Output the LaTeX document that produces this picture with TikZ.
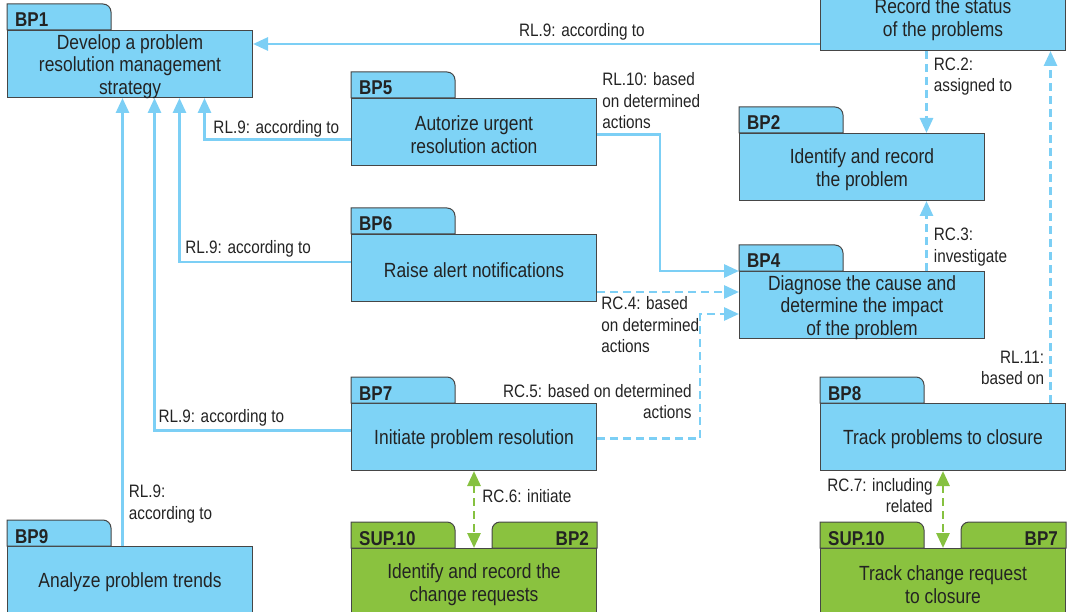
\documentclass[tikz,border=0pt]{standalone}
\usepackage{fontspec}
\setmainfont{Liberation Sans}[FakeStretch=0.85]
\usetikzlibrary{arrows.meta,calc}

\definecolor{boxblue}{RGB}{126,211,246}
\definecolor{lineblue}{RGB}{124,207,245}
\definecolor{boxgreen}{RGB}{138,194,63}
\definecolor{linegreen}{RGB}{134,193,64}
\definecolor{edgegray}{RGB}{70,70,70}
\definecolor{ink}{RGB}{35,35,35}

\tikzset{
  boxtext/.style={align=center, text=ink, inner sep=0pt, yshift=-2.5pt,
    font=\fontsize{20.5pt}{22.5pt}\selectfont},
  body/.style={draw=edgegray, line width=1pt, fill=boxblue, minimum width=245pt,
    minimum height=67pt, inner sep=0pt, anchor=north west,
    label={[boxtext]center:#1}},
  gbody/.style={body={#1}, fill=boxgreen},
  tabline/.style={draw=edgegray, line width=1pt},
  tabtxt/.style={font=\fontsize{20pt}{22pt}\selectfont\bfseries, text=ink, inner sep=0pt},
  lbl/.style={font=\fontsize{18pt}{21.5pt}\selectfont, text=ink, inner sep=1pt},
  tip/.tip={Triangle[length=15pt,width=13pt]},
  conn/.style={draw=lineblue, line width=2.8pt, -tip},
  dconn/.style={conn, dash pattern=on 8pt off 5pt},
  gconn/.style={draw=linegreen, line width=2.8pt, dash pattern=on 8pt off 5pt, tip-tip},
}

% folder tab on the left of a box, rounded at its top right corner
\newcommand\lefttab[2]{%
  \draw[tabline, fill=#2] (#1.north west) -- ++(0pt,26pt) -- ++(96pt,0pt)
    arc[start angle=90, end angle=0, radius=8pt] -- ++(0pt,-18pt) -- cycle;}
% folder tab on the right of a box, rounded at its top left corner
\newcommand\righttab[2]{%
  \draw[tabline, fill=#2] (#1.north east) -- ++(0pt,26pt) -- ++(-97pt,0pt)
    arc[start angle=90, end angle=180, radius=8pt] -- ++(0pt,-18pt) -- cycle;}

\begin{document}
\begin{tikzpicture}[x=1pt,y=1pt]
\useasboundingbox (0,0) rectangle (1070,-612);
\clip (0,0) rectangle (1070,-612);

% process boxes
\node[body={Record the status\\of the problems}] (rec) at (820,17) {};
\node[body={Develop a problem\\resolution management\\strategy}] (bp1) at (7,-30) {};
\node[body={Autorize urgent\\resolution action}] (bp5) at (351,-98) {};
\node[body={Identify and record\\the problem}] (bp2) at (739,-133) {};
\node[body={Raise alert notifications}] (bp6) at (351,-234) {};
\node[body={Diagnose the cause and\\determine the impact\\of the problem}] (bp4) at (739,-271) {};
\node[body={Initiate problem resolution}] (bp7) at (351,-403) {};
\node[body={Track problems to closure}] (bp8) at (820,-403) {};
\node[body={Analyze problem trends}] (bp9) at (7,-546) {};
\node[gbody={Identify and record the\\change requests}] (cr1) at (351,-548) {};
\node[gbody={Track change request\\to closure}] (cr2) at (820,-548) {};

% tabs
\foreach \b in {bp1,bp5,bp2,bp6,bp4,bp7,bp8,bp9} {\lefttab{\b}{boxblue}}
\lefttab{cr1}{boxgreen}\righttab{cr1}{boxgreen}
\lefttab{cr2}{boxgreen}\righttab{cr2}{boxgreen}

\node[tabtxt, anchor=base west] (t1) at ([shift={(8pt,3pt)}]bp1.north west) {BP1};
\node[tabtxt, anchor=base west] (t5) at ([shift={(8pt,3pt)}]bp5.north west) {BP5};
\node[tabtxt, anchor=base west] (t2) at ([shift={(8pt,3pt)}]bp2.north west) {BP2};
\node[tabtxt, anchor=base west] (t6) at ([shift={(8pt,3pt)}]bp6.north west) {BP6};
\node[tabtxt, anchor=base west] (t4) at ([shift={(8pt,3pt)}]bp4.north west) {BP4};
\node[tabtxt, anchor=base west] (t7) at ([shift={(8pt,3pt)}]bp7.north west) {BP7};
\node[tabtxt, anchor=base west] (t8) at ([shift={(8pt,3pt)}]bp8.north west) {BP8};
\node[tabtxt, anchor=base west] (t9) at ([shift={(8pt,3pt)}]bp9.north west) {BP9};
\node[tabtxt, anchor=base west] (s1) at ([shift={(8pt,3pt)}]cr1.north west) {SUP.10};
\node[tabtxt, anchor=base east] (s1r) at ([shift={(-8pt,3pt)}]cr1.north east) {BP2};
\node[tabtxt, anchor=base west] (s2) at ([shift={(8pt,3pt)}]cr2.north west) {SUP.10};
\node[tabtxt, anchor=base east] (s2r) at ([shift={(-8pt,3pt)}]cr2.north east) {BP7};

% connector end points
\coordinate (c1)  at ([yshift=7pt]rec.south west);
\coordinate (c2)  at ([xshift=-16.5pt]rec.south);
\coordinate (c3)  at ([xshift=107.5pt]bp8.north);
\coordinate (c4)  at ([xshift=64.5pt]bp4.north);
\coordinate (c5)  at ([yshift=-7.5pt]bp5.west);
\coordinate (c5e) at ([xshift=74.5pt]bp1.south);
\coordinate (c6)  at ([yshift=6pt]bp6.west);
\coordinate (c6e) at ([xshift=49.5pt]bp1.south);
\coordinate (c7)  at ([yshift=6.5pt]bp7.west);
\coordinate (c7e) at ([xshift=24.5pt]bp1.south);
\coordinate (c8)  at ([xshift=-7.5pt]bp9.north);
\coordinate (c9)  at ([yshift=-2.5pt]bp5.east);
\coordinate (c9m) at ([xshift=-79pt]bp4.north west);
\coordinate (c10) at ([yshift=-24pt]bp6.east);
\coordinate (c11) at ([yshift=-1.5pt]bp7.east);
\coordinate (c11e) at ([yshift=-9pt]bp4.west);
\coordinate (c11m) at ([xshift=-39pt]c11e);

% connectors
\draw[conn] (c1) -- (c1 -| bp1.east)
  node[lbl, pos=0.42, anchor=base, yshift=7.5pt] {RL.9: according to};
\draw[dconn] (c2) -- (c2 |- bp2.north)
  node[lbl, pos=0.315, anchor=west, xshift=5pt, align=left] {RC.2:\\assigned to};
\draw[dconn] (c3) -- (c3 |- rec.south)
  node[lbl, pos=0.1, anchor=east, xshift=-4pt, align=right] {RL.11:\\based on};
\draw[dconn] (c4) -- (c4 |- bp2.south)
  node[lbl, pos=0.34, anchor=west, xshift=5pt, align=left] {RC.3:\\investigate};
\draw[conn] (c5) -| (c5e)
  node[lbl, pos=0.255, anchor=base, yshift=6pt] {RL.9: according to};
\draw[conn] (c6) -| (c6e)
  node[lbl, pos=0.3, anchor=base, yshift=8pt] {RL.9: according to};
\draw[conn] (c7) -| (c7e)
  node[lbl, pos=0.33, anchor=base, yshift=8pt] {RL.9: according to};
\draw[conn] (c8) -- (c8 |- bp1.south)
  node[lbl, pos=0.094, anchor=west, xshift=4pt, align=left] {RL.9:\\according to};
\draw[conn] (c9)
  node[lbl, anchor=south west, xshift=3pt, yshift=3pt, align=left] {RL.10: based\\on determined\\actions}
  -| (c9m) -- (bp4.north west);
\draw[dconn] (c10)
  node[lbl, anchor=north west, xshift=2pt, yshift=-2.5pt, align=left] {RC.4: based\\on determined\\actions}
  -- (c10 -| bp4.west);
\draw[dconn] (c11) -| node[lbl, pos=0.5, anchor=south east, xshift=-6pt, yshift=17pt, align=right]
  {RC.5: based on determined\\actions} (c11m) -- (c11e);
\draw[gconn] (bp7.south) -- (cr1.north)
  node[lbl, pos=0.32, anchor=west, xshift=6pt] {RC.6: initiate};
\draw[gconn] (bp8.south) -- (cr2.north)
  node[lbl, pos=0.32, anchor=east, xshift=-8pt, align=right] {RC.7: including\\related};
\end{tikzpicture}
\end{document}
